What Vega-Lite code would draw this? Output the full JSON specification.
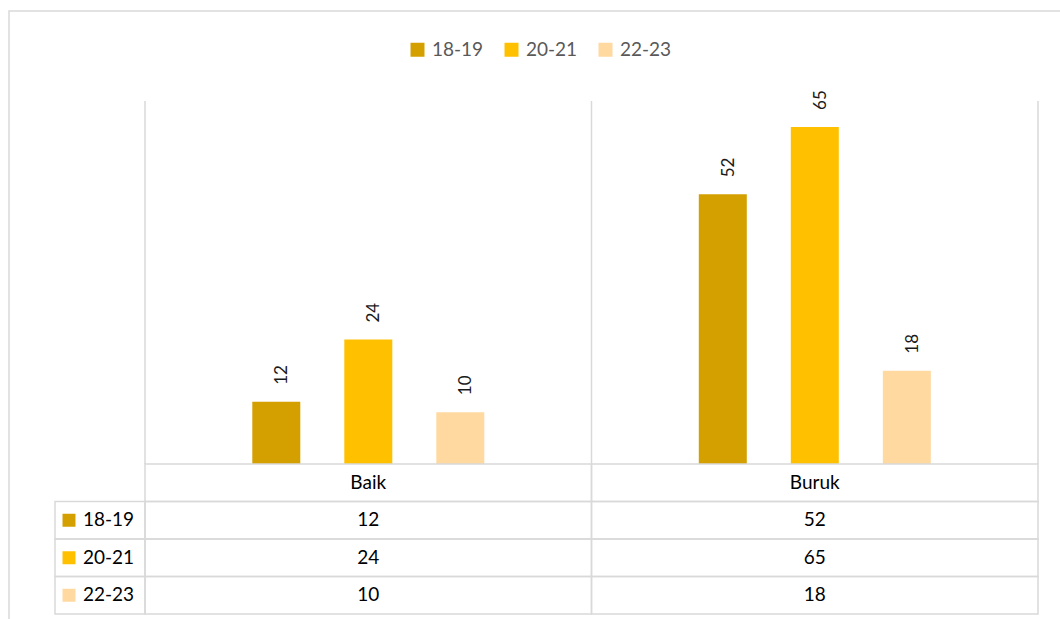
{
  "$schema": "https://vega.github.io/schema/vega-lite/v6.json",
  "width": 1054,
  "height": 611,
  "autosize": {"type": "none"},
  "padding": {"left": 9, "top": 11, "right": -3, "bottom": -3},
  "background": "white",
  "config": {
    "view": {"stroke": "#D9D9D9", "strokeWidth": 1.5},
    "font": "Lato",
    "text": {"font": "Lato"}
  },
  "datasets": {
    "main": [
      {"cat": "Baik", "series": "18-19", "value": 12},
      {"cat": "Baik", "series": "20-21", "value": 24},
      {"cat": "Baik", "series": "22-23", "value": 10},
      {"cat": "Buruk", "series": "18-19", "value": 52},
      {"cat": "Buruk", "series": "20-21", "value": 65},
      {"cat": "Buruk", "series": "22-23", "value": 18}
    ],
    "header": [{"cat": "Baik", "row": "cat"}, {"cat": "Buruk", "row": "cat"}],
    "series": [
      {"series": "18-19", "col": "label"},
      {"series": "20-21", "col": "label"},
      {"series": "22-23", "col": "label"}
    ],
    "gridA": [{"cat": "Baik"}, {"cat": "Buruk"}],
    "gridB": [{"cat": "Buruk"}]
  },
  "resolve": {"scale": {"x": "independent", "y": "independent"}},
  "layer": [
    {
      "data": {"name": "gridA"},
      "mark": {"type": "rule", "stroke": "#D9D9D9", "strokeWidth": 1.5},
      "encoding": {
        "x": {"field": "cat", "type": "nominal", "bandPosition": 0, "axis": null,
              "scale": {"domain": ["Baik", "Buruk"], "range": [136, 1029], "paddingInner": 0, "paddingOuter": 0}},
        "y": {"datum": 0, "type": "quantitative", "axis": null,
              "scale": {"domain": [0, 70], "range": [453, 90], "nice": false}},
        "y2": {"datum": 70}
      }
    },
    {
      "data": {"name": "gridB"},
      "mark": {"type": "rule", "stroke": "#D9D9D9", "strokeWidth": 1.5},
      "encoding": {
        "x": {"field": "cat", "type": "nominal", "bandPosition": 1, "axis": null,
              "scale": {"domain": ["Baik", "Buruk"], "range": [136, 1029], "paddingInner": 0, "paddingOuter": 0}},
        "y": {"datum": 0, "type": "quantitative", "axis": null,
              "scale": {"domain": [0, 70], "range": [453, 90], "nice": false}},
        "y2": {"datum": 70}
      }
    },
    {
      "data": {"name": "main"},
      "mark": {"type": "bar"},
      "encoding": {
        "x": {"field": "cat", "type": "nominal", "axis": null,
              "scale": {"domain": ["Baik", "Buruk"], "range": [136, 1029], "paddingInner": 0, "paddingOuter": 0}},
        "xOffset": {"field": "series", "type": "nominal",
                    "scale": {"domain": ["18-19", "20-21", "22-23"], "range": [107.3, 339.3], "paddingInner": 0.4783, "paddingOuter": 0}},
        "y": {"field": "value", "type": "quantitative", "axis": null,
              "scale": {"domain": [0, 70], "range": [453, 90], "nice": false}},
        "color": {"field": "series", "type": "nominal",
                  "scale": {"domain": ["18-19", "20-21", "22-23"], "range": ["#D4A000", "#FFC000", "#FFD9A0"]},
                  "legend": {"orient": "none", "legendX": 399, "legendY": 29, "direction": "horizontal", "title": null,
                             "symbolType": "square", "symbolSize": 196, "symbolStrokeWidth": 0, "symbolOpacity": 1,
                             "labelFont": "Lato", "labelFontSize": 19, "labelColor": "#595959", "labelOffset": 5,
                             "columnPadding": 18, "labelLimit": 200}}
      }
    },
    {
      "data": {"name": "main"},
      "mark": {"type": "text", "angle": 270, "align": "left", "baseline": "middle", "dx": 17, "dy": 6,
               "fontSize": 17, "color": "#1a1a1a"},
      "encoding": {
        "x": {"field": "cat", "type": "nominal", "axis": null,
              "scale": {"domain": ["Baik", "Buruk"], "range": [136, 1029], "paddingInner": 0, "paddingOuter": 0}},
        "xOffset": {"field": "series", "type": "nominal",
                    "scale": {"domain": ["18-19", "20-21", "22-23"], "range": [107.3, 339.3], "paddingInner": 0.4783, "paddingOuter": 0}},
        "y": {"field": "value", "type": "quantitative", "axis": null,
              "scale": {"domain": [0, 70], "range": [453, 90], "nice": false}},
        "text": {"field": "value", "type": "quantitative"}
      }
    },
    {
      "data": {"name": "main"},
      "mark": {"type": "rect", "filled": false, "stroke": "#D9D9D9", "strokeWidth": 1.5},
      "encoding": {
        "x": {"field": "cat", "type": "nominal", "axis": null,
              "scale": {"domain": ["Baik", "Buruk"], "range": [136, 1029], "paddingInner": 0, "paddingOuter": 0}},
        "y": {"field": "series", "type": "nominal", "axis": null,
              "scale": {"domain": ["cat", "18-19", "20-21", "22-23"], "range": [453, 603], "paddingInner": 0, "paddingOuter": 0}}
      }
    },
    {
      "data": {"name": "header"},
      "mark": {"type": "rect", "filled": false, "stroke": "#D9D9D9", "strokeWidth": 1.5},
      "encoding": {
        "x": {"field": "cat", "type": "nominal", "axis": null,
              "scale": {"domain": ["Baik", "Buruk"], "range": [136, 1029], "paddingInner": 0, "paddingOuter": 0}},
        "y": {"field": "row", "type": "nominal", "axis": null,
              "scale": {"domain": ["cat", "18-19", "20-21", "22-23"], "range": [453, 603], "paddingInner": 0, "paddingOuter": 0}}
      }
    },
    {
      "data": {"name": "series"},
      "mark": {"type": "rect", "filled": false, "stroke": "#D9D9D9", "strokeWidth": 1.5},
      "encoding": {
        "x": {"field": "col", "type": "nominal", "axis": null,
              "scale": {"domain": ["label"], "range": [46, 136], "paddingInner": 0, "paddingOuter": 0}},
        "y": {"field": "series", "type": "nominal", "axis": null,
              "scale": {"domain": ["cat", "18-19", "20-21", "22-23"], "range": [453, 603], "paddingInner": 0, "paddingOuter": 0}}
      }
    },
    {
      "data": {"name": "header"},
      "mark": {"type": "text", "fontSize": 19, "color": "#000000", "baseline": "middle"},
      "encoding": {
        "x": {"field": "cat", "type": "nominal", "axis": null,
              "scale": {"domain": ["Baik", "Buruk"], "range": [136, 1029], "paddingInner": 0, "paddingOuter": 0}},
        "y": {"field": "row", "type": "nominal", "axis": null,
              "scale": {"domain": ["cat", "18-19", "20-21", "22-23"], "range": [453, 603], "paddingInner": 0, "paddingOuter": 0}},
        "text": {"field": "cat", "type": "nominal"}
      }
    },
    {
      "data": {"name": "main"},
      "mark": {"type": "text", "fontSize": 19, "color": "#000000", "baseline": "middle"},
      "encoding": {
        "x": {"field": "cat", "type": "nominal", "axis": null,
              "scale": {"domain": ["Baik", "Buruk"], "range": [136, 1029], "paddingInner": 0, "paddingOuter": 0}},
        "y": {"field": "series", "type": "nominal", "axis": null,
              "scale": {"domain": ["cat", "18-19", "20-21", "22-23"], "range": [453, 603], "paddingInner": 0, "paddingOuter": 0}},
        "text": {"field": "value", "type": "quantitative"}
      }
    },
    {
      "data": {"name": "series"},
      "mark": {"type": "point", "shape": "square", "filled": true, "opacity": 1, "size": 169, "strokeWidth": 0},
      "encoding": {
        "x": {"field": "col", "type": "nominal", "axis": null,
              "scale": {"domain": ["label"], "range": [46, 74], "paddingInner": 0, "paddingOuter": 0}},
        "y": {"field": "series", "type": "nominal", "axis": null,
              "scale": {"domain": ["cat", "18-19", "20-21", "22-23"], "range": [453, 603], "paddingInner": 0, "paddingOuter": 0}},
        "color": {"field": "series", "type": "nominal",
                  "scale": {"domain": ["18-19", "20-21", "22-23"], "range": ["#D4A000", "#FFC000", "#FFD9A0"]}}
      }
    },
    {
      "data": {"name": "series"},
      "mark": {"type": "text", "fontSize": 19, "color": "#000000", "align": "left", "baseline": "middle"},
      "encoding": {
        "x": {"field": "col", "type": "nominal", "axis": null,
              "scale": {"domain": ["label"], "range": [46, 102], "paddingInner": 0, "paddingOuter": 0}},
        "y": {"field": "series", "type": "nominal", "axis": null,
              "scale": {"domain": ["cat", "18-19", "20-21", "22-23"], "range": [453, 603], "paddingInner": 0, "paddingOuter": 0}},
        "text": {"field": "series", "type": "nominal"}
      }
    }
  ]
}
